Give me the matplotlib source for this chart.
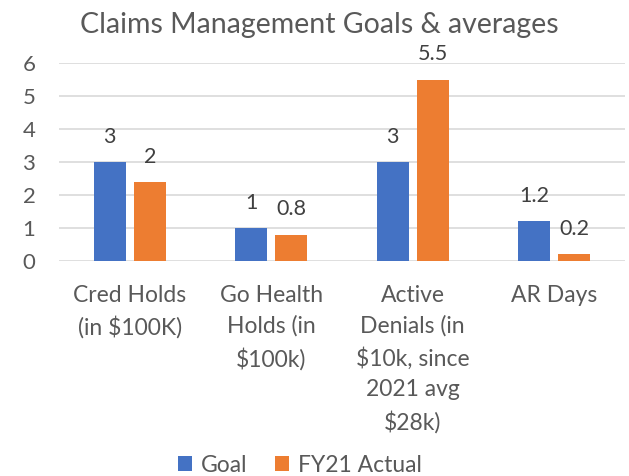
import numpy as np
import matplotlib
matplotlib.use('Agg')
from matplotlib import pyplot as plt

plt.rcParams['font.family'] = ['Lato', 'DejaVu Sans']
plt.rcParams['text.parse_math'] = False

categories = ['Cred Holds\n(in $100K)', 'Go Health\nHolds (in\n$100k)',
              'Active\nDenials (in\n$10k, since\n2021 avg\n$28k)', 'AR Days']
goal = [3, 1, 3, 1.2]
actual = [2.4, 0.8, 5.5, 0.2]
goal_labels = ['3', '1', '3', '1.2']
actual_labels = ['2', '0.8', '5.5', '0.2']

BLUE = '#4472C4'
ORANGE = '#ED7D31'
GRAY = '#595959'

fig = plt.figure(figsize=(6.29, 4.76), dpi=100)
ax = fig.add_axes([59/629, 1-261/476, (625-59)/629, (261-63)/476])

x = np.arange(len(categories))
w = 0.226
off = 0.141
b1 = ax.bar(x - off, goal, w, color=BLUE, label='Goal', zorder=3)
b2 = ax.bar(x + off, actual, w, color=ORANGE, label='FY21 Actual', zorder=3)

for bars, labs in [(b1, goal_labels), (b2, actual_labels)]:
    for rect, lab in zip(bars, labs):
        ax.annotate(lab, (rect.get_x() + rect.get_width()/2, rect.get_height()),
                    xytext=(0, 11), textcoords='offset points', ha='center',
                    va='bottom', fontsize=15.5, color='#404040')

ax.set_xlim(-0.5, 3.5)
ax.set_ylim(0, 6)
ax.set_yticks(range(0, 7))
ax.set_xticks(x)
ax.set_xticklabels(categories, fontsize=16.5, color=GRAY, linespacing=1.55, va='top')
ax.tick_params(axis='x', length=0, pad=17)
ax.tick_params(axis='y', length=0, pad=17, labelsize=16, labelcolor=GRAY)
ax.yaxis.grid(True, color='#D9D9D9', linewidth=1.2, zorder=0)
for s in ax.spines.values():
    s.set_visible(False)

fig.text(319/629, 1-25/476, 'Claims Management Goals & averages', ha='center',
         va='center', fontsize=20.5, color=GRAY)

fig.legend(handles=[b1, b2], loc='center', bbox_to_anchor=(300/629, 1-465/476),
           ncol=2, frameon=False, fontsize=16.5, handlelength=0.6, handleheight=0.6,
           handletextpad=0.4, columnspacing=1.2, labelcolor=GRAY, borderpad=0)

plt.savefig('out.png', dpi=100)
